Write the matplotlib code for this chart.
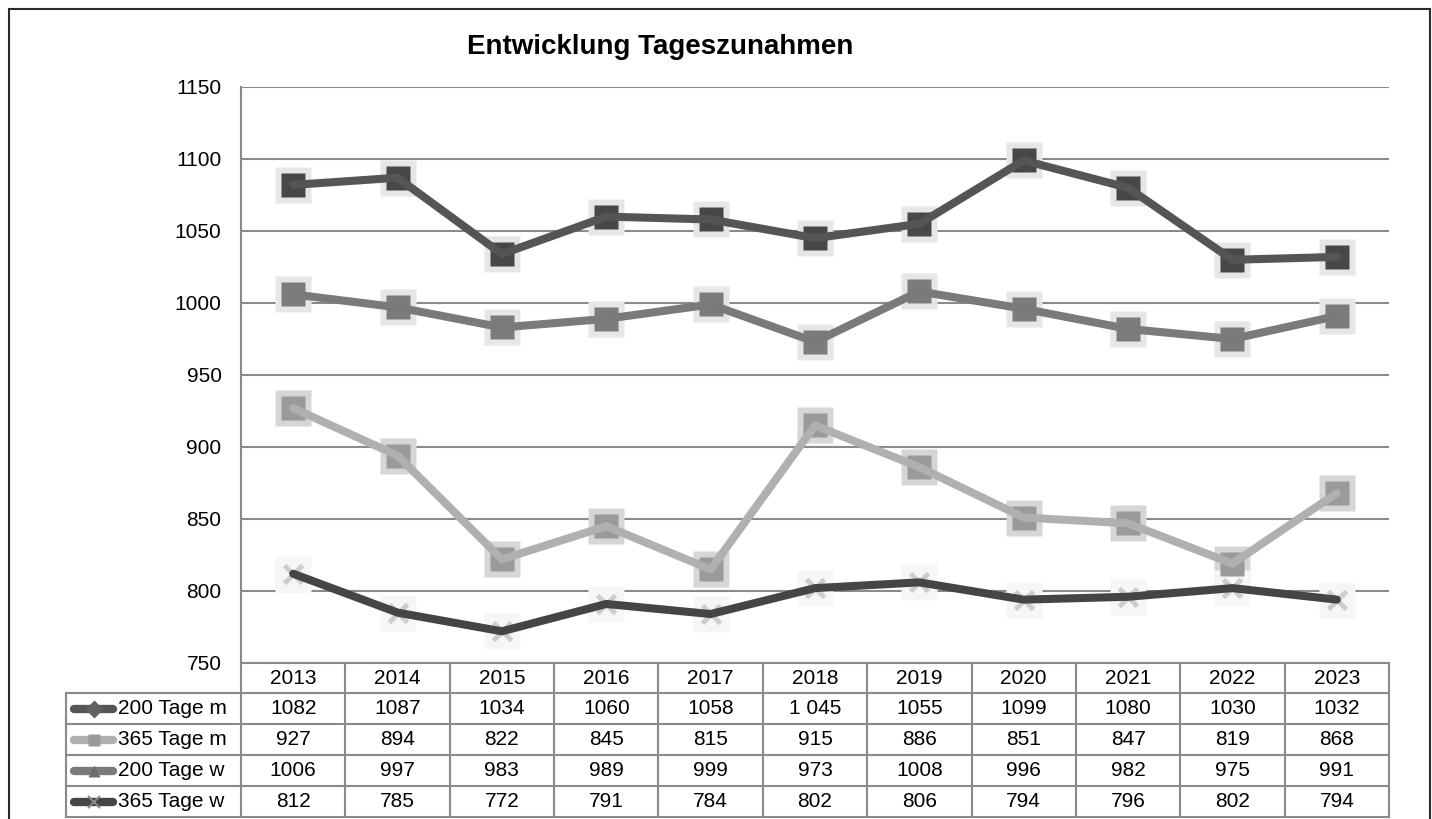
import matplotlib.pyplot as plt
from matplotlib.patches import Rectangle

plt.rcParams['font.family'] = ['Liberation Sans', 'DejaVu Sans']

# Daily weight gain per year
years = [2013, 2014, 2015, 2016, 2017, 2018, 2019, 2020, 2021, 2022, 2023]
m200 = [1082, 1087, 1034, 1060, 1058, 1045, 1055, 1099, 1080, 1030, 1032]
m365 = [927, 894, 822, 845, 815, 915, 886, 851, 847, 819, 868]
w200 = [1006, 997, 983, 989, 999, 973, 1008, 996, 982, 975, 991]
w365 = [812, 785, 772, 791, 784, 802, 806, 794, 796, 802, 794]
names = ['200 Tage m', '365 Tage m', '200 Tage w', '365 Tage w']
yticks = [750, 800, 850, 900, 950, 1000, 1050, 1100, 1150]

# (row, column) cells written differently in the table
cell_text = {(0, 5): '1 045'}

series = [m200, m365, w200, w365]
# line colour, marker, marker face, halo colour, key marker, key colour
styles = [
    ('#555555', 's', '#474747', '#e6e6e6', 'D', '#606060'),
    ('#b0b0b0', 's', '#9a9a9a', '#d6d6d6', 's', '#9a9a9a'),
    ('#7a7a7a', 's', '#7c7c7c', '#e6e6e6', '^', '#6e6e6e'),
    ('#454545', 'x', '#cdcdcd', '#f6f6f6', 'x', '#888888'),
]

FS = 15
W, H = 1432, 819
fig = plt.figure(figsize=(W / 100, H / 100), dpi=100)

# outer frame
fig.add_artist(Rectangle((9 / W, -0.02), (1430 - 9) / W, 1.02 - 9 / H,
                         transform=fig.transFigure, fill=False,
                         edgecolor='#2a2a2a', lw=1.5, clip_on=False))

x0, x1 = 241, 1389
ytop, ybot = 87, 663
ax = fig.add_axes([x0 / W, 1 - ybot / H, (x1 - x0) / W, (ybot - ytop) / H])

x = list(range(len(years)))
for vals, (lc, mk, mf, halo, kmk, kc) in zip(series, styles):
    ax.plot(x, vals, ls='none', marker='s', ms=26, mfc=halo, mec='none', zorder=2)
    if mk == 'x':
        ax.plot(x, vals, ls='none', marker='x', ms=13, mec=mf, mew=3.5, zorder=3)
    else:
        ax.plot(x, vals, ls='none', marker=mk, ms=17, mfc=mf, mec='none', zorder=3)
    ax.plot(x, vals, color=lc, lw=5.8, solid_capstyle='round',
            solid_joinstyle='round', zorder=4)

ax.set_xlim(-0.5, len(years) - 0.5)
ax.set_ylim(750, 1150)
ax.set_yticks(yticks)
ax.set_yticklabels([str(v) for v in yticks], fontsize=FS)
ax.tick_params(axis='y', length=0, pad=14)
ax.set_xticks([])
ax.grid(axis='y', color='#8a8a8a', lw=1.5)
ax.set_axisbelow(True)
for s in ['top', 'right', 'bottom']:
    ax.spines[s].set_visible(False)
ax.spines['left'].set_color('#8a8a8a')
ax.spines['left'].set_linewidth(1.5)

fig.text(660 / W, 1 - 47 / H, 'Entwicklung Tageszunahmen', ha='center',
         va='center', fontsize=20, fontweight='bold')

# data table under the plot, x in the same units as the line chart
upx = (x1 - x0) / len(years)
tleft = 66
xl = -0.5 - (x0 - tleft) / upx
row_px = [663, 693, 724, 755, 786, 817]
tax = fig.add_axes([tleft / W, 1 - row_px[-1] / H, (x1 - tleft) / W,
                    (row_px[-1] - row_px[0]) / H])
tax.set_xlim(xl, len(years) - 0.5)
tax.set_ylim(row_px[-1], row_px[0])
tax.axis('off')

gc = '#8a8a8a'
tax.plot([-0.5, len(years) - 0.5], [row_px[0]] * 2, color=gc, lw=1.5, clip_on=False)
for r in row_px[1:]:
    tax.plot([xl, len(years) - 0.5], [r, r], color=gc, lw=1.5, clip_on=False)
for k in range(len(years) + 1):
    tax.plot([k - 0.5] * 2, [row_px[0], row_px[-1]], color=gc, lw=1.5, clip_on=False)
tax.plot([xl, xl], [row_px[1], row_px[-1]], color=gc, lw=1.5, clip_on=False)

for k, yr in enumerate(years):
    tax.text(k, (row_px[0] + row_px[1]) / 2, str(yr), ha='center', va='center',
             fontsize=FS)

for i, (name, vals, st) in enumerate(zip(names, series, styles)):
    yc = (row_px[i + 1] + row_px[i + 2]) / 2
    lc, kmk, kc = st[0], st[4], st[5]
    kx0 = xl + 8 / upx
    kx1 = xl + 47 / upx
    tax.plot([kx0, kx1], [yc, yc], color=lc, lw=6, solid_capstyle='round',
             clip_on=False)
    if kmk == 'x':
        tax.plot([(kx0 + kx1) / 2], [yc], marker='x', ms=9, mec=kc, mew=1.5,
                 clip_on=False)
    else:
        tax.plot([(kx0 + kx1) / 2], [yc], marker=kmk, ms=9, mfc=kc, mec='none',
                 clip_on=False)
    tax.text(xl + 52 / upx, yc, name, ha='left', va='center', fontsize=FS)
    for k, v in enumerate(vals):
        tax.text(k, yc, cell_text.get((i, k), str(v)), ha='center', va='center',
                 fontsize=FS)

fig.savefig('out.png', dpi=100)
